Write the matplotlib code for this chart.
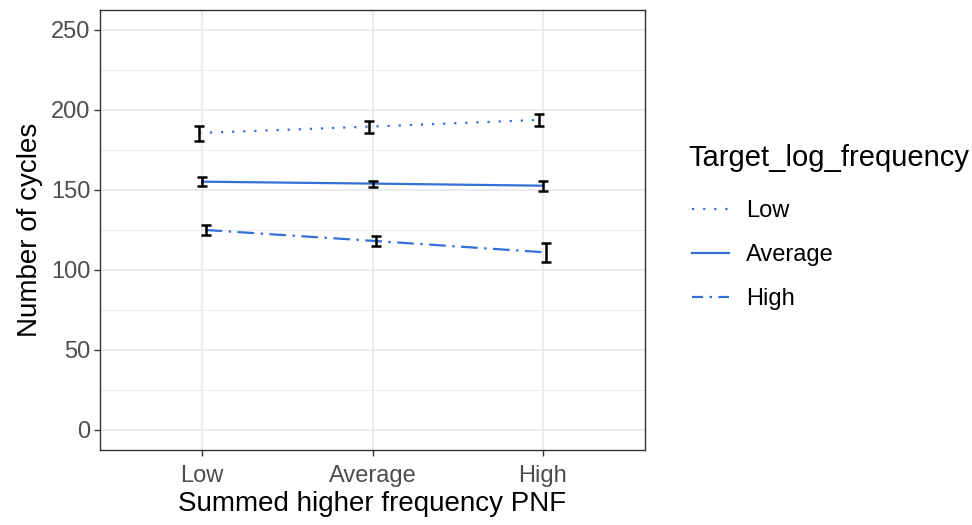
import matplotlib
matplotlib.use("Agg")
import matplotlib.pyplot as plt
import numpy as np
from matplotlib.lines import Line2D

plt.rcParams['font.family'] = ['Liberation Sans', 'DejaVu Sans']

x_labels = ["Low", "Average", "High"]
series = ["Low", "Average", "High"]
means = {
    "Low": [185.6, 189.6, 193.8],
    "Average": [155.2, 154.0, 152.7],
    "High": [125.0, 118.1, 111.0],
}
lower = {
    "Low": [180.6, 185.8, 190.0],
    "Average": [152.5, 151.7, 149.6],
    "High": [122.0, 115.0, 105.2],
}
upper = {
    "Low": [190.2, 193.0, 197.5],
    "Average": [158.0, 155.6, 155.6],
    "High": [128.0, 121.3, 116.7],
}
styles = {"Low": (0, (1, 4)), "Average": "-", "High": (0, (7.5, 2.9, 1.1, 2.9))}
leg_styles = {"Low": (0, (1, 4)), "Average": "-", "High": (2.5, (7.5, 2.9, 1.1, 2.9))}
dodge = {"Low": -0.02, "Average": 0.0, "High": 0.02}
color = "#3371d6"

W, H = 972, 525
fig = plt.figure(figsize=(W / 100, H / 100), dpi=100)
ax = fig.add_axes([100 / W, 1 - 450 / H, 545 / W, 440 / H])

xpos = np.arange(1, 4)
for s in series:
    xs = xpos + dodge[s]
    m = np.array(means[s])
    lo = m - np.array(lower[s])
    hi = np.array(upper[s]) - m
    ax.plot(xs, m, color=color, lw=1.6, linestyle=styles[s], zorder=3)
    ax.errorbar(xs, m, yerr=[lo, hi], fmt="none", ecolor="black",
                elinewidth=1.8, capsize=3.5, capthick=1.8, zorder=4)

ax.set_xlim(0.4, 3.6)
ax.set_ylim(-12.5, 262.5)
ax.set_xticks(xpos)
ax.set_xticklabels(x_labels)
ax.set_yticks(np.arange(0, 251, 50))
ax.set_yticks(np.arange(25, 251, 50), minor=True)
ax.grid(True, which="major", color="#ebebeb", lw=1.3, zorder=0)
ax.grid(True, which="minor", axis="y", color="#ebebeb", lw=0.7, zorder=0)
ax.set_axisbelow(True)
for sp in ax.spines.values():
    sp.set_color("#333333")
    sp.set_linewidth(1.0)
ax.tick_params(which="major", colors="#333333", length=4, width=1.0,
               labelsize=17, labelcolor="#4d4d4d")
ax.tick_params(axis="x", which="major", pad=7)
ax.tick_params(axis="y", which="major", pad=3)
ax.tick_params(which="minor", length=0)
ax.set_xlabel("Summed higher frequency PNF", fontsize=20, color="black", labelpad=3)
ax.set_ylabel("Number of cycles", fontsize=20, color="black", labelpad=6)

fig.text(688 / W, 1 - 158 / H, "Target_log_frequency", fontsize=21,
         ha="left", va="center")
handles = [Line2D([0], [0], color=color, lw=1.6, linestyle=leg_styles[s]) for s in series]
leg = fig.legend(handles, series,
                 loc="upper left", bbox_to_anchor=(683 / W, 1 - 191 / H),
                 frameon=False, fontsize=17,
                 handlelength=1.55, labelspacing=0.92, handletextpad=0.72,
                 borderaxespad=0)

fig.savefig("out.png", dpi=100)
